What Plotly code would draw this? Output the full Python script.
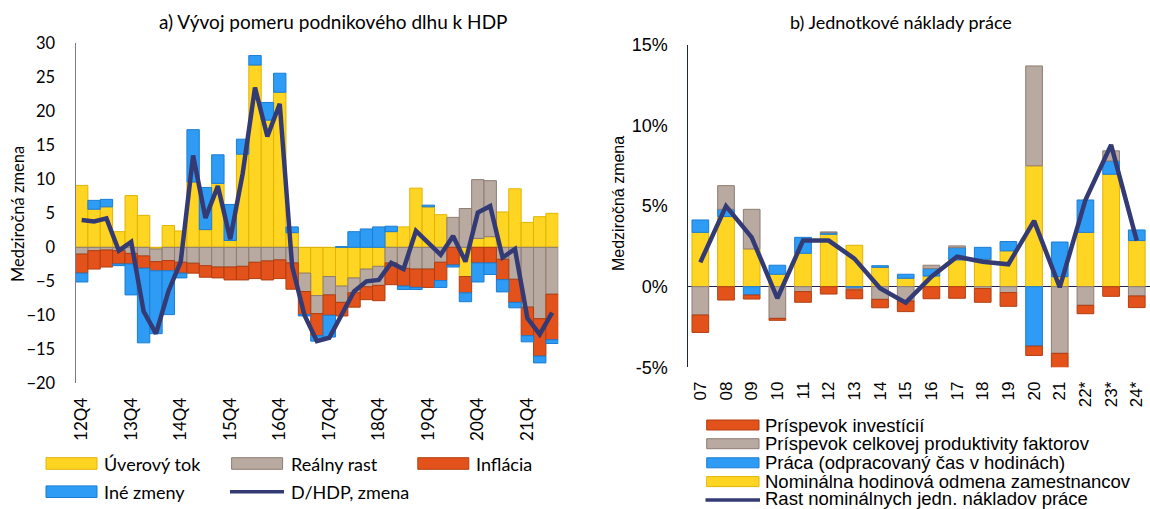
import plotly.graph_objects as go

W, H = 1150, 509

# ---------------- Left chart data: a) Vývoj pomeru podnikového dlhu k HDP ----------------
quarters = ["12Q4", "13Q1", "13Q2", "13Q3", "13Q4", "14Q1", "14Q2", "14Q3", "14Q4",
            "15Q1", "15Q2", "15Q3", "15Q4", "16Q1", "16Q2", "16Q3", "16Q4",
            "17Q1", "17Q2", "17Q3", "17Q4", "18Q1", "18Q2", "18Q3", "18Q4",
            "19Q1", "19Q2", "19Q3", "19Q4", "20Q1", "20Q2", "20Q3", "20Q4",
            "21Q1", "21Q2", "21Q3", "21Q4", "22Q1", "22Q2"]
quarter_ticks = ["12Q4", "13Q4", "14Q4", "15Q4", "16Q4", "17Q4", "18Q4", "19Q4", "20Q4", "21Q4"]

uverovy_tok = [9.1, 5.6, 5.95, 2.3, 7.6, 4.7, -0.25, 3.2, 2.4,
               9.6, 2.6, 9.4, 1.0, 13.7, 26.8, 18.7, 22.8,
               2.15, -3.8, -7.1, -4.3, -5.7, -4.5, -3.2, -2.8,
               2.3, 3.0, 8.7, 5.95, 4.8, 0.0, -4.3, 1.3,
               1.56, 5.2, 8.6, 3.66, 4.5, 5.0]
realny_rast = [-1.0, -0.5, -0.4, -0.5, -0.9, -1.27, -1.85, -1.95, -2.2,
               -2.34, -2.7, -2.9, -2.9, -2.8, -2.2, -2.0, -1.85,
               -2.3, -2.7, -2.65, -2.7, -2.4, -2.2, -2.6, -2.8,
               -2.3, -3.1, -3.2, -3.2, -2.2, 4.4, 5.7, 8.65,
               8.24, -1.76, -4.7, -8.8, -10.5, -6.9]
inflacia = [-2.8, -2.7, -2.5, -1.95, -1.55, -1.8, -1.36, -1.51, -1.6,
            -1.46, -1.7, -1.6, -1.9, -2.0, -2.4, -2.8, -2.75,
            -3.86, -3.4, -3.25, -3.0, -2.0, -2.1, -1.9, -2.25,
            -3.2, -2.6, -2.7, -2.7, -2.7, -2.6, -2.4, -2.3,
            -2.3, -3.0, -3.4, -4.2, -5.5, -6.7]
ine_zmeny = [-1.3, 1.3, 1.1, -0.25, -4.55, -10.98, -9.24, -6.44, -0.7,
             7.7, 6.2, 4.2, 5.3, 2.2, 1.4, 2.6, 2.8,
             0.85, -0.2, -0.8, -3.2, 0.1, 2.3, 2.7, 3.0,
             0.8, -0.5, -0.3, 0.25, -1.0, -0.3, -1.3, -2.8,
             -1.7, -1.8, -0.8, -0.9, -1.0, -0.55]
d_hdp = [4.0, 3.8, 4.25, -0.5, 0.8, -9.4, -12.7, -6.5, -2.1,
         13.5, 4.3, 9.0, 1.2, 10.8, 23.5, 16.3, 21.1,
         -2.8, -10.0, -13.8, -13.3, -9.9, -6.5, -5.0, -4.8,
         -2.3, -3.2, 2.4, 0.6, -1.1, 1.66, -2.1, 5.1,
         6.05, -1.5, -0.25, -10.4, -12.8, -9.6]
left_yticks = [-20, -15, -10, -5, 0, 5, 10, 15, 20, 25, 30]

# ---------------- Right chart data: b) Jednotkové náklady práce ----------------
years = ["07", "08", "09", "10", "11", "12", "13", "14", "15", "16", "17", "18",
         "19", "20", "21", "22*", "23*", "24*"]
nominalna_odmena = [3.37, 4.35, 2.34, 0.77, 2.07, 3.25, 2.57, 1.2, 0.52, 0.66, 1.66, 1.7,
                    2.22, 7.5, 0.62, 3.37, 6.98, 2.86]
praca = [0.77, 0.45, -0.52, 0.56, 0.99, 0.1, -0.1, 0.1, 0.25, 0.46, 0.76, 0.74,
         0.58, -3.69, 2.15, 2.01, 0.82, 0.66]
tfp = [-1.76, 1.47, 2.46, -1.97, -0.31, 0.05, -0.1, -0.79, -0.89, 0.21, 0.11, -0.12,
       -0.37, 6.2, -4.14, -1.16, 0.63, -0.58]
investicie = [-1.08, -0.83, -0.25, -0.12, -0.66, -0.46, -0.55, -0.52, -0.66, -0.75, -0.72, -0.85,
              -0.85, -0.58, -0.93, -0.52, -0.6, -0.72]
ulc = [1.51, 5.0, 3.06, -0.72, 2.86, 2.86, 1.74, -0.1, -0.99, 0.62, 1.86, 1.55,
       1.39, 4.08, -0.04, 5.38, 8.8, 2.86]
right_yticks = [-5, 0, 5, 10, 15]
right_yticktext = ["-5%", "0%", "5%", "10%", "15%"]

# ---------------- styles ----------------
YEL, YEL_L = "#FFD524", "#E2B400"
GRY, GRY_L = "#B8A9A1", "#8E7D73"
ORA, ORA_L = "#E4521B", "#B23E10"
BLU, BLU_L = "#2E9BF4", "#1B7DD4"
NAVY = "#343B74"
LFONT = "Lato"
RFONT = "Liberation Sans"

fig = go.Figure()

left_series = [("Úverový tok", uverovy_tok, YEL, YEL_L),
               ("Reálny rast", realny_rast, GRY, GRY_L),
               ("Inflácia", inflacia, ORA, ORA_L),
               ("Iné zmeny", ine_zmeny, BLU, BLU_L)]
for name, vals, c, lc in left_series:
    fig.add_trace(go.Bar(x=quarters, y=vals, name=name, width=1.0,
                         marker=dict(color=c, line=dict(color=lc, width=1)),
                         xaxis="x", yaxis="y", showlegend=False))
fig.add_trace(go.Scatter(x=quarters, y=d_hdp, name="D/HDP, zmena", mode="lines",
                         line=dict(color=NAVY, width=4.5), xaxis="x", yaxis="y",
                         showlegend=False))

right_series = [("Nominálna hodinová odmena zamestnancov", nominalna_odmena, YEL, YEL_L),
                ("Práca (odpracovaný čas v hodinách)", praca, BLU, BLU_L),
                ("Príspevok celkovej produktivity faktorov", tfp, GRY, GRY_L),
                ("Príspevok investícií", investicie, ORA, ORA_L)]
for name, vals, c, lc in right_series:
    fig.add_trace(go.Bar(x=years, y=vals, name=name, width=0.65,
                         marker=dict(color=c, line=dict(color=lc, width=1)),
                         xaxis="x2", yaxis="y2", showlegend=False))
fig.add_trace(go.Scatter(x=years, y=ulc, name="Rast nominálnych jedn. nákladov práce",
                         mode="lines", line=dict(color=NAVY, width=4.5),
                         xaxis="x2", yaxis="y2", showlegend=False))


def px(x):
    return x / W


def py(y):
    return 1 - y / H


fig.update_layout(
    width=W, height=H, margin=dict(l=0, r=0, t=0, b=0, autoexpand=False),
    paper_bgcolor="white", plot_bgcolor="white",
    barmode="relative", showlegend=False,
    xaxis=dict(domain=[px(75.5), px(558.3)], type="category", range=[-0.5, len(quarters) - 0.5],
               tickvals=quarter_ticks, ticktext=quarter_ticks, tickangle=-90,
               tickfont=dict(family=LFONT, size=17, color="#000000"),
               ticks="", ticklabelstandoff=10, showline=False, showgrid=False, zeroline=False,
               anchor="y"),
    yaxis=dict(domain=[py(383.3), py(43.3)], range=[-20, 30], tickvals=left_yticks,
               tickfont=dict(family=LFONT, size=16.5, color="#000000"),
               ticks="", ticklabelstandoff=16, showline=True, linecolor="#7A7A98", linewidth=1.2,
               showgrid=False, zeroline=True, zerolinecolor="#3A3A3A", zerolinewidth=1,
               anchor="x"),
    xaxis2=dict(domain=[px(687.5), px(1149.6)], type="category", range=[-0.5, len(years) - 0.5],
                tickangle=-90, tickfont=dict(family=RFONT, size=17, color="#000000"),
                ticks="", ticklabelstandoff=10, showline=False, showgrid=False, zeroline=False,
                anchor="y2"),
    yaxis2=dict(domain=[py(367.2), py(45)], range=[-5, 15], tickvals=right_yticks,
                ticktext=right_yticktext, tickfont=dict(family=RFONT, size=18, color="#000000"),
                ticks="", ticklabelstandoff=15, showline=True, linecolor="#1E2254", linewidth=1.2,
                showgrid=False, zeroline=True, zerolinecolor="#1E2254", zerolinewidth=1.2,
                anchor="x2"),
)

annotations = [
    dict(text="a) Vývoj pomeru podnikového dlhu k HDP", x=px(157), y=py(21.5), xanchor="left",
         font=dict(family=LFONT, size=19, color="#000000")),
    dict(text="b) Jednotkové náklady práce", x=px(788), y=py(21.5), xanchor="left",
         font=dict(family=LFONT, size=18, color="#000000")),
    dict(text="Medziročná zmena", x=px(18), y=py(214), textangle=-90,
         font=dict(family=LFONT, size=16.5, color="#000000")),
    dict(text="Medziročná zmena", x=px(618), y=py(204), textangle=-90,
         font=dict(family=RFONT, size=16, color="#000000")),
]
for a in annotations:
    a.setdefault("xanchor", "center")
    a.update(xref="paper", yref="paper", showarrow=False, yanchor="middle")

shapes = []

# left legend (two rows, three columns)
left_legend = [("Úverový tok", YEL, YEL_L, 46, 103.3, 463.5, "bar"),
               ("Reálny rast", GRY, GRY_L, 231.6, 289.6, 463.5, "bar"),
               ("Inflácia", ORA, ORA_L, 417.8, 474.8, 463.5, "bar"),
               ("Iné zmeny", BLU, BLU_L, 46, 103.3, 491.7, "bar"),
               ("D/HDP, zmena", NAVY, NAVY, 230, 289.6, 491.7, "line")]
for text, c, lc, sx, tx, cy, kind in left_legend:
    if kind == "bar":
        shapes.append(dict(type="rect", xref="paper", yref="paper", x0=px(sx), x1=px(sx + 51),
                           y0=py(cy + 5.8), y1=py(cy - 5.8), fillcolor=c,
                           line=dict(color=lc, width=1)))
    else:
        shapes.append(dict(type="line", xref="paper", yref="paper", x0=px(sx), x1=px(sx + 54),
                           y0=py(cy), y1=py(cy), line=dict(color=c, width=3.5)))
    annotations.append(dict(text=text, x=px(tx), y=py(cy), xref="paper", yref="paper",
                            showarrow=False, xanchor="left", yanchor="middle", borderpad=0,
                            font=dict(family=LFONT, size=18, color="#000000")))

# right legend (one column): text, colours, swatch centre, text centre
right_legend = [("Príspevok investícií", ORA, ORA_L, 425, 425, "bar"),
                ("Príspevok celkovej produktivity faktorov", GRY, GRY_L, 443.7, 443.7, "bar"),
                ("Práca (odpracovaný čas v hodinách)", BLU, BLU_L, 462.8, 462.6, "bar"),
                ("Nominálna hodinová odmena zamestnancov", YEL, YEL_L, 481.6, 481.2, "bar"),
                ("Rast nominálnych jedn. nákladov práce", NAVY, NAVY, 500, 498.4, "line")]
for text, c, lc, cy, ty, kind in right_legend:
    if kind == "bar":
        shapes.append(dict(type="rect", xref="paper", yref="paper", x0=px(706.7), x1=px(759),
                           y0=py(cy + 5), y1=py(cy - 5), fillcolor=c,
                           line=dict(color=lc, width=1)))
    else:
        shapes.append(dict(type="line", xref="paper", yref="paper", x0=px(705.5), x1=px(760),
                           y0=py(cy), y1=py(cy), line=dict(color=c, width=3.5)))
    annotations.append(dict(text=text, x=px(764), y=py(ty), xref="paper", yref="paper",
                            showarrow=False, xanchor="left", yanchor="middle", borderpad=0,
                            font=dict(family=RFONT, size=18.5, color="#000000")))

fig.update_layout(annotations=annotations, shapes=shapes)
fig.write_html("out.html", config={"displayModeBar": False},
               post_script="document.body.style.margin='0px';document.body.style.overflow='hidden';")
